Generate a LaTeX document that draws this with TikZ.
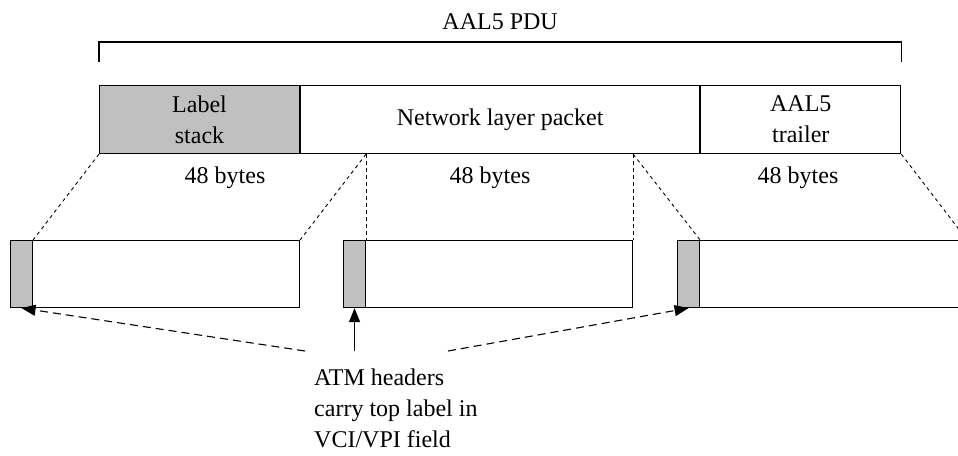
\documentclass[tikz,border=0pt]{standalone}
\usepackage{fontspec}
\setmainfont{Liberation Serif}
\usetikzlibrary{calc,arrows.meta}

\definecolor{hdrgray}{RGB}{192,192,192}

\begin{document}
\begin{tikzpicture}[
  x=1pt, y=-1pt,  % pixel grid, y downwards
  every node/.style={font=\fontsize{24}{31}\selectfont},
  field/.style={draw, line width=1.1pt, inner sep=0pt, minimum height=68pt,
    anchor=north west, align=center},
  cellbox/.style={draw, line width=1.1pt, inner sep=0pt, minimum height=67pt,
    minimum width=289pt, anchor=north west},
  hdr/.style={draw, line width=1.1pt, fill=hdrgray, inner sep=0pt,
    minimum height=67pt, minimum width=22pt, anchor=north west},
  split/.style={line width=0.9pt, dash pattern=on 3.5pt off 3.5pt},
  pointer/.style={line width=1.1pt, -{Triangle[length=14pt,width=11pt]}}
]
\useasboundingbox (0,0) rectangle (958,455);

% ---------------- AAL5 PDU ----------------
\node[field, fill=hdrgray, minimum width=200pt] (lstack) at (99,85) {Label\\stack};
\node[field, minimum width=399pt] (netpkt) at (lstack.north east) {Network layer packet};
\node[field, minimum width=200pt] (trailer) at (netpkt.north east) {AAL5\\trailer};

% bracket over the whole PDU
\draw[line width=1.1pt] ($(lstack.north west)+(0,-23)$) -- ($(lstack.north west)+(0,-43)$)
  -- ($(trailer.north east)+(0,-43)$) -- ($(trailer.north east)+(0,-23)$);
\node (pdu) at ($(netpkt.north)+(0,-63)$) {AAL5 PDU};

% ---------------- ATM cells ----------------
\node[cellbox] (cellA) at (10,240) {};
\node[cellbox] (cellB) at (343,240) {};
\node[cellbox] (cellC) at (677,240) {};
\node[hdr] (hdrA) at (cellA.north west) {};
\node[hdr] (hdrB) at (cellB.north west) {};
\node[hdr] (hdrC) at (cellC.north west) {};

% 48 byte boundaries on the PDU
\coordinate (cutB) at (hdrB.north east |- lstack.south);
\coordinate (cutC) at (cellB.north east |- lstack.south);

\node (bytesA) at (225,178) {48 bytes};
\node (bytesB) at (490,178) {48 bytes};
\node (bytesC) at (798,178) {48 bytes};

% segmentation lines
\draw[split] (lstack.south west) -- (hdrA.north east);
\draw[split] (cutB) -- (cellA.north east);
\draw[split] (cutB) -- (hdrB.north east);
\draw[split] (cutC) -- (cellB.north east);
\draw[split] (cutC) -- (hdrC.north east);
\draw[split] (trailer.south east) -- (cellC.north east);

% ---------------- Note ----------------
\node[anchor=north west, align=left, inner sep=0pt] (note) at (314,369)
  {ATM headers\\carry top label in\\VCI/VPI field};

\coordinate (fromA) at (305,351);
\coordinate (fromB) at (hdrB.south |- fromA);
\coordinate (fromC) at (448,351);

\draw[pointer, dash pattern=on 8pt off 5pt] (fromA) -- (hdrA.south);
\draw[pointer] (fromB) -- (hdrB.south);
\draw[pointer, dash pattern=on 8pt off 5pt] (fromC) -- (hdrC.south);

\end{tikzpicture}
\end{document}
